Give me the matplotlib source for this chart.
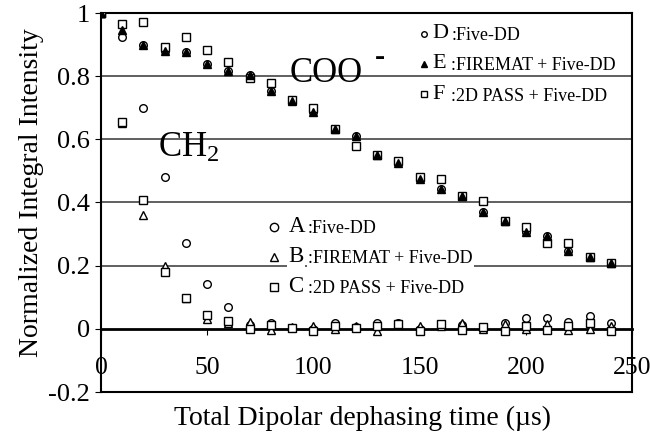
import matplotlib
matplotlib.use("Agg")
import matplotlib.pyplot as plt
from matplotlib.ticker import FormatStrFormatter

plt.rcParams['font.family'] = ['Liberation Serif', 'DejaVu Serif']
plt.rcParams['mathtext.fontset'] = 'custom'
plt.rcParams['mathtext.rm'] = 'Liberation Serif'
plt.rcParams['mathtext.it'] = 'Liberation Serif:italic'

t = [0, 10, 20, 30, 40, 50, 60, 70, 80, 90, 100, 110, 120, 130, 140, 150,
     160, 170, 180, 190, 200, 210, 220, 230, 240]

# CH2 signals
a_five = [1.0, 0.655, 0.70, 0.482, 0.273, 0.141, 0.069, 0.012, 0.018, 0.003, 0.0,
          0.018, 0.005, 0.018, 0.018, 0.0, 0.01, 0.012, 0.0, 0.018, 0.034, 0.034,
          0.023, 0.041, 0.02]
b_firemat = [1.0, 0.651, 0.361, 0.199, 0.097, 0.031, 0.017, 0.022, -0.005, 0.006, 0.008,
             -0.002, 0.01, -0.007, 0.015, 0.009, 0.01, 0.02, 0.0, 0.014, -0.002, 0.016,
             -0.005, -0.002, 0.01]
c_pass = [1.0, 0.655, 0.408, 0.181, 0.097, 0.044, 0.025, 0.001, 0.013, 0.003, -0.008,
          0.008, 0.003, 0.01, 0.016, -0.008, 0.016, -0.003, 0.005, -0.008, 0.01, -0.005,
          0.01, 0.02, -0.008]

# COO- signals
d_five = [1.0, 0.923, 0.899, 0.88, 0.877, 0.84, 0.817, 0.804, 0.753, 0.725, 0.685,
          0.633, 0.609, 0.549, 0.525, 0.475, 0.443, 0.421, 0.369, 0.34, 0.308, 0.294,
          0.248, 0.229, 0.209]
e_firemat = [1.0, 0.946, 0.899, 0.88, 0.877, 0.84, 0.817, 0.804, 0.753, 0.722, 0.685,
             0.633, 0.609, 0.549, 0.525, 0.475, 0.443, 0.421, 0.369, 0.34, 0.308, 0.294,
             0.248, 0.229, 0.209]
f_pass = [1.0, 0.965, 0.972, 0.893, 0.925, 0.883, 0.844, 0.794, 0.778, 0.725, 0.699,
          0.633, 0.579, 0.549, 0.53, 0.482, 0.474, 0.421, 0.406, 0.34, 0.323, 0.273,
          0.273, 0.229, 0.209]

fig = plt.figure(figsize=(6.5, 4.36), dpi=100)
ax = fig.add_axes([101 / 650, 44 / 436, 531 / 650, 379 / 436])

ax.set_xlim(0, 250)
ax.set_ylim(-0.2, 1.0)

for yv in [0.2, 0.4, 0.6, 0.8]:
    ax.axhline(yv, color='#444444', lw=1.2, zorder=1)

ms = 5.5
ax.plot(t, a_five, 'o', ms=ms, mfc='white', mec='black', mew=1, zorder=3)
ax.plot(t, b_firemat, '^', ms=ms, mfc='white', mec='black', mew=1, zorder=3)
ax.plot(t, c_pass, 's', ms=ms, mfc='white', mec='black', mew=1, zorder=3)
ax.plot(t, d_five, 'o', ms=ms, mfc='white', mec='black', mew=1, zorder=3)
ax.plot(t, f_pass, 's', ms=ms, mfc='white', mec='black', mew=1, zorder=3)
ax.plot(t, e_firemat, '^', ms=ms, mfc='black', mec='black', mew=1, zorder=4)

# x axis crosses at zero, frame kept round the plot
ax.spines['bottom'].set_position(('data', 0))
ax.spines['bottom'].set_linewidth(2)
ax.axhline(-0.2, color='black', lw=1.5, clip_on=False, zorder=5)
for s in ['left', 'right', 'top']:
    ax.spines[s].set_linewidth(1.5)

ax.set_xticks([0, 50, 100, 150, 200, 250])
ax.set_yticks([-0.2, 0, 0.2, 0.4, 0.6, 0.8, 1.0])
ax.yaxis.set_major_formatter(FormatStrFormatter('%g'))
ax.tick_params(axis='x', direction='out', length=4, pad=16, labelsize=18.5)
ax.tick_params(axis='y', direction='out', length=4, pad=4, labelsize=19)

ax.set_ylabel('Normalized Integral Intensity', fontsize=20)
ax.yaxis.set_label_coords(-0.108, 0.525)
fig.text(0.558, 0.041, 'Total Dipolar dephasing time (\u00b5s)', fontsize=20,
         ha='center', va='center')

ax.text(89, 0.78, 'COO', fontsize=25, ha='left', va='baseline', zorder=6)
ax.text(129, 0.835, '-', fontsize=22, fontweight='bold', ha='left', va='baseline', zorder=6)
ax.text(27, 0.545, 'CH$_2$', fontsize=25, ha='left', va='baseline', zorder=6)

# hand-made legends
upper = [('o', 'white', 'D', ':Five-DD', 0.935),
         ('^', 'black', 'E', ':FIREMAT + Five-DD', 0.84),
         ('s', 'white', 'F', ':2D PASS + Five-DD', 0.742)]
lower = [('o', 'white', 'A', ':Five-DD', 0.323),
         ('^', 'white', 'B', ':FIREMAT + Five-DD', 0.228),
         ('s', 'white', 'C', ':2D PASS + Five-DD', 0.133)]

for mk, fc, letter, label, yy in upper:
    ax.plot([152], [yy], mk, ms=4, mfc=fc, mec='black', mew=1, zorder=6)
    ax.text(156, yy, letter, fontsize=16, ha='left', va='center', zorder=6)
    ax.text(165, yy - 0.006, label, fontsize=13, ha='left', va='center', zorder=6)

for mk, fc, letter, label, yy in lower:
    ax.plot([81.3], [yy], mk, ms=6, mfc=fc, mec='black', mew=1, zorder=6)
    ax.text(88.2, yy, letter, fontsize=16.5, ha='left', va='center', zorder=6,
            bbox=dict(fc='white', ec='none', pad=1))
    ax.text(97.5, yy - 0.006, label, fontsize=13, ha='left', va='center', zorder=6,
            bbox=dict(fc='white', ec='none', pad=1))

fig.savefig('out.png', dpi=100)
